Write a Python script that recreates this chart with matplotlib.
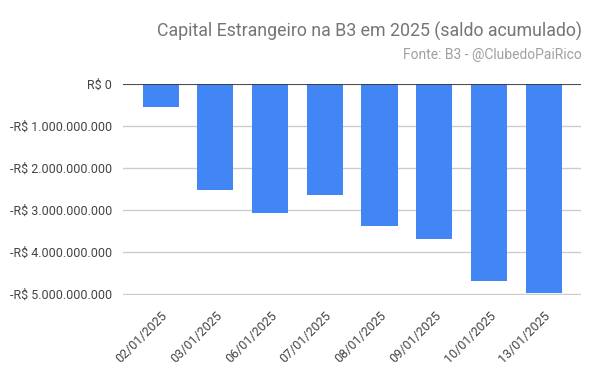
import matplotlib as mpl
mpl.use('Agg')
import matplotlib.pyplot as plt
import numpy as np

plt.rcParams['font.family'] = ['Roboto', 'DejaVu Sans']

# dados
datas = ['02/01/2025', '03/01/2025', '06/01/2025', '07/01/2025',
         '08/01/2025', '09/01/2025', '10/01/2025', '13/01/2025']
saldo = [-0.54e9, -2.52e9, -3.06e9, -2.635e9, -3.37e9, -3.68e9, -4.68e9, -4.98e9]
yticks = [0, -1e9, -2e9, -3e9, -4e9, -5e9]


def fmt_brl(v):
    s = 'R$ ' + '{:,.0f}'.format(abs(v)).replace(',', '.')
    return '-' + s if v < 0 else s


fig = plt.figure(figsize=(6, 3.72), dpi=100)
ax = fig.add_axes([0.205, 0.206, 0.763, 0.568])

x = np.arange(len(datas))
ax.bar(x, saldo, width=0.66, color='#4285f4', zorder=3)

ax.set_ylim(-5.03e9, 0)
ax.set_xlim(-0.69, len(datas) - 1 + 0.68)
ax.set_yticks(yticks)
ax.set_yticklabels([fmt_brl(v) for v in yticks])
ax.yaxis.grid(True, color='#cccccc', linewidth=1, zorder=0)
ax.axhline(0, color='#333333', linewidth=1.2, zorder=4)

ax.set_xticks(x)
ax.set_xticklabels(datas, rotation=45, ha='right', rotation_mode='anchor')
ax.tick_params(axis='both', length=0, labelsize=9, colors='#444444')
ax.tick_params(axis='y', pad=8)
ax.tick_params(axis='x', pad=10)
for s in ax.spines.values():
    s.set_visible(False)

fig.text(0.97, 0.915, 'Capital Estrangeiro na B3 em 2025 (saldo acumulado)',
         ha='right', va='center', fontsize=12.8, color='#757575')
fig.text(0.97, 0.852, 'Fonte: B3 - @ClubedoPaiRico',
         ha='right', va='center', fontsize=10, color='#a0a0a0')

fig.savefig('out.png', dpi=100)
